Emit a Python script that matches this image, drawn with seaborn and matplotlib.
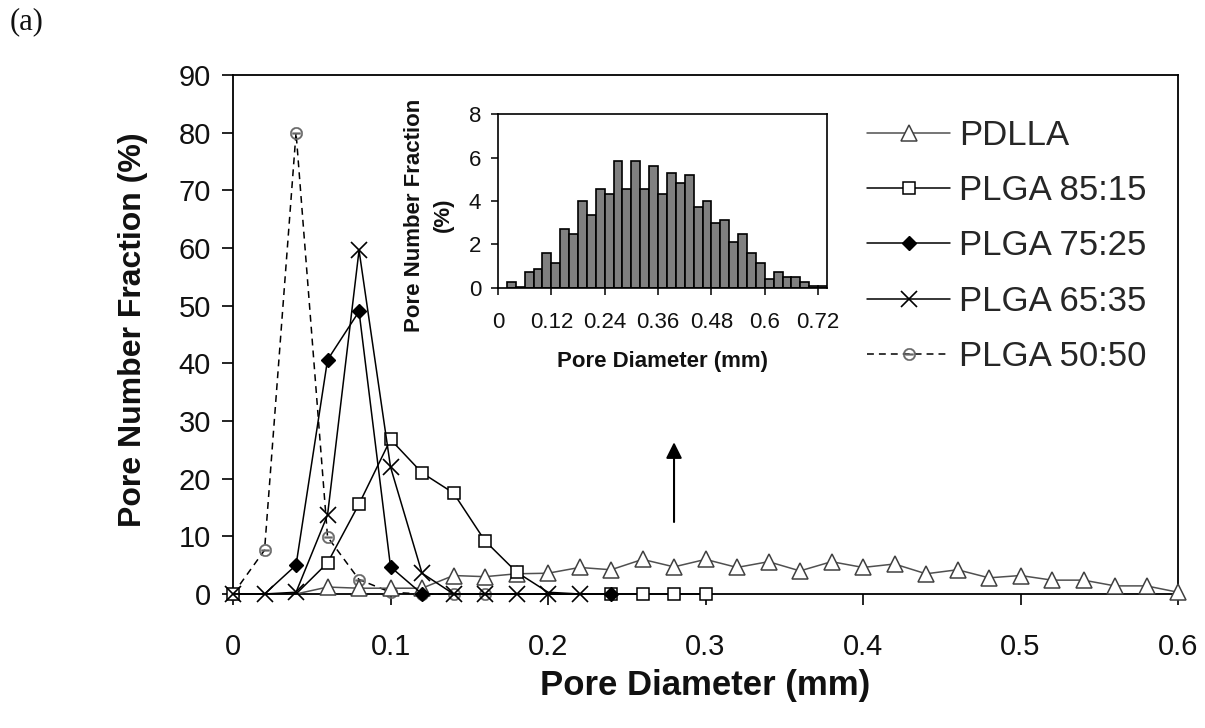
import numpy as np
import pandas as pd
import matplotlib
matplotlib.use('Agg')
import matplotlib.pyplot as plt
import seaborn as sns

sns.set_style('ticks')
plt.rcParams['font.family'] = ['Liberation Sans', 'DejaVu Sans']

# ---- main chart: pore number fraction (%) vs pore diameter (mm) ----
diam_pdlla = [0, 0.02, 0.04, 0.06, 0.08, 0.10, 0.12, 0.14, 0.16, 0.18, 0.20,
              0.22, 0.24, 0.26, 0.28, 0.30, 0.32, 0.34, 0.36, 0.38, 0.40,
              0.42, 0.44, 0.46, 0.48, 0.50, 0.52, 0.54, 0.56, 0.58, 0.60]
frac_pdlla = [0, 0, 0, 1.2, 1.0, 1.0, 1.0, 3.2, 3.0, 3.5, 3.6,
              4.6, 4.2, 6.0, 4.7, 6.0, 4.6, 5.6, 4.0, 5.6, 4.6,
              5.2, 3.5, 4.2, 2.8, 3.2, 2.4, 2.4, 1.4, 1.4, 0.3]

diam_8515 = [0, 0.02, 0.04, 0.06, 0.08, 0.10, 0.12, 0.14, 0.16, 0.18, 0.20,
             0.22, 0.24, 0.26, 0.28, 0.30]
frac_8515 = [0, 0, 0, 5.4, 15.6, 26.8, 21.0, 17.5, 9.2, 3.8, 0.3,
             0, 0, 0, 0, 0]

diam_7525 = [0, 0.02, 0.04, 0.06, 0.08, 0.10, 0.12, 0.14, 0.16, 0.18, 0.20,
             0.22, 0.24]
frac_7525 = [0, 0, 5.0, 40.6, 49.0, 4.7, 0, 0, 0, 0, 0, 0, 0]

diam_6535 = [0, 0.02, 0.04, 0.06, 0.08, 0.10, 0.12, 0.14, 0.16, 0.18, 0.20, 0.22]
frac_6535 = [0, 0, 0.3, 13.7, 59.6, 22.0, 3.6, 0, 0, 0, 0, 0]

diam_5050 = [0, 0.02, 0.04, 0.06, 0.08, 0.10, 0.12, 0.14, 0.16, 0.18, 0.20, 0.22]
frac_5050 = [0, 7.6, 80.0, 9.9, 2.5, 0.3, 0, 0, 0, 0, 0, 0]

# ---- inset histogram: PDLLA pore diameter distribution ----
bin_mid = [0.03, 0.05, 0.07, 0.09, 0.11, 0.13, 0.15, 0.17, 0.19, 0.21, 0.23, 0.25,
           0.27, 0.29, 0.31, 0.33, 0.35, 0.37, 0.39, 0.41, 0.43, 0.45, 0.47, 0.49,
           0.51, 0.53, 0.55, 0.57, 0.59, 0.61, 0.63, 0.65, 0.67, 0.69, 0.71, 0.73]
bin_frac = [0.29, 0.06, 0.75, 0.86, 1.62, 1.16, 2.70, 2.47, 4.02, 3.36, 4.55, 4.32,
            5.84, 4.55, 5.84, 4.55, 5.62, 4.32, 5.30, 4.84, 5.20, 3.71, 4.02, 3.00,
            3.13, 2.13, 2.47, 1.59, 1.16, 0.40, 0.72, 0.49, 0.49, 0.29, 0.10, 0.10]

xticks_main = [0, 0.1, 0.2, 0.3, 0.4, 0.5, 0.6]
xlabels_main = ['0', '0.1', '0.2', '0.3', '0.4', '0.5', '0.6']
yticks_main = [0, 10, 20, 30, 40, 50, 60, 70, 80, 90]
xticks_inset = [0, 0.12, 0.24, 0.36, 0.48, 0.6, 0.72]
xlabels_inset = ['0', '0.12', '0.24', '0.36', '0.48', '0.6', '0.72']
yticks_inset = [0, 2, 4, 6, 8]

fig = plt.figure(figsize=(12.05, 7.28), dpi=100)
ax = fig.add_axes([0.1934, 0.1841, 0.7842, 0.7129])

common = dict(ax=ax, lw=1.1, clip_on=False)

# markers hidden where other series sit on top of them at zero (as in the original)
sns.lineplot(x=diam_5050, y=frac_5050, color='black', linestyle=(0, (4.5, 3.3)),
             marker=r'$\ominus$', markersize=9, markerfacecolor='#666666',
             markeredgecolor='#666666', markeredgewidth=0.3,
             markevery=[0, 1, 2, 3, 4, 5, 6, 7, 8], label='PLGA 50:50', zorder=3, **common)
sns.lineplot(x=diam_pdlla, y=frac_pdlla, color='#505050',
             marker='^', markersize=11.5, markerfacecolor='white',
             markeredgecolor='#404040', markeredgewidth=1.1,
             markevery=list(range(3, 31)), label='PDLLA', zorder=3, **common)
sns.lineplot(x=diam_8515, y=frac_8515, color='black',
             marker='s', markersize=8.7, markerfacecolor='white',
             markeredgecolor='black', markeredgewidth=1.1,
             markevery=[0, 3, 4, 5, 6, 7, 8, 9, 12, 13, 14, 15],
             label='PLGA 85:15', zorder=3, **common)
sns.lineplot(x=diam_7525, y=frac_7525, color='black',
             marker='D', markersize=7.6, markerfacecolor='black',
             markeredgecolor='black', markeredgewidth=1.0,
             markevery=[2, 3, 4, 5, 6, 12], label='PLGA 75:25', zorder=4, **common)
sns.lineplot(x=diam_6535, y=frac_6535, color='black',
             marker='x', markersize=11, markeredgecolor='black',
             markeredgewidth=1.2, label='PLGA 65:35', zorder=5, **common)

ax.set_xlim(0, 0.6)
ax.set_ylim(0, 90)
ax.set_xticks(xticks_main)
ax.set_xticklabels(xlabels_main)
ax.set_yticks(yticks_main)
ax.tick_params(axis='both', direction='out', length=8, width=1.2, colors='black',
               labelsize=21, labelcolor='#111111')
ax.tick_params(axis='x', pad=20)
ax.tick_params(axis='y', pad=8)
for sp in ax.spines.values():
    sp.set_visible(True)
    sp.set_linewidth(1.3)
    sp.set_color('black')

ax.set_xlabel('Pore Diameter (mm)', fontsize=25, fontweight='bold', color='#111111')
ax.set_ylabel('Pore Number Fraction (%)', fontsize=23, fontweight='bold', color='#111111')
ax.xaxis.set_label_coords(0.5, -0.145)
ax.yaxis.set_label_coords(-0.09, 0.51)

# arrow pointing up to the inset
ax.annotate('', xy=(0.28, 26.8), xytext=(0.28, 12),
            arrowprops=dict(arrowstyle='-|>', color='black', lw=1.5, mutation_scale=24))

handles, labels = ax.get_legend_handles_labels()
order = ['PDLLA', 'PLGA 85:15', 'PLGA 75:25', 'PLGA 65:35', 'PLGA 50:50']
hmap = dict(zip(labels, handles))
leg = ax.legend([hmap[k] for k in order], order, loc='upper left',
                bbox_to_anchor=(867 / 1205, 1 - 119 / 728), bbox_transform=fig.transFigure,
                frameon=False, fontsize=25, handlelength=2.4, handletextpad=0.25,
                labelspacing=0.64, borderpad=0, borderaxespad=0, numpoints=1)
for h in leg.legend_handles:
    h.set_markevery([1])   # single marker in the middle of each legend line

# ---- inset ----
ax_in = fig.add_axes([0.4133, 0.6044, 0.2730, 0.2390])
sns.barplot(x=bin_mid, y=bin_frac, native_scale=True, width=1.0, color='#808080',
            saturation=1, edgecolor='black', linewidth=1.2, ax=ax_in)
ax_in.set_xlim(0, 0.74)
ax_in.set_ylim(0, 8)
ax_in.set_xticks(xticks_inset)
ax_in.set_xticklabels(xlabels_inset)
ax_in.set_yticks(yticks_inset)
ax_in.tick_params(axis='both', direction='out', length=5, width=1.1, colors='black',
                  labelsize=16, labelcolor='#111111')
ax_in.tick_params(axis='x', pad=12)
ax_in.tick_params(axis='y', pad=7)
for sp in ax_in.spines.values():
    sp.set_visible(True)
    sp.set_linewidth(1.2)
    sp.set_color('black')
ax_in.set_xlabel('Pore Diameter (mm)', fontsize=16, fontweight='bold', color='#111111')
ax_in.set_ylabel('Pore Number Fraction\n(%)', fontsize=16, fontweight='bold',
                 color='#111111', linespacing=1.45)
ax_in.xaxis.set_label_coords(0.5, -0.36)
ax_in.yaxis.set_label_coords(-0.135, 0.42)

fig.text(0.008, 1 - 22 / 728, '(a)', fontsize=22, family='Liberation Serif',
         va='center', ha='left', color='#111111')

fig.savefig('out.png', dpi=100)
